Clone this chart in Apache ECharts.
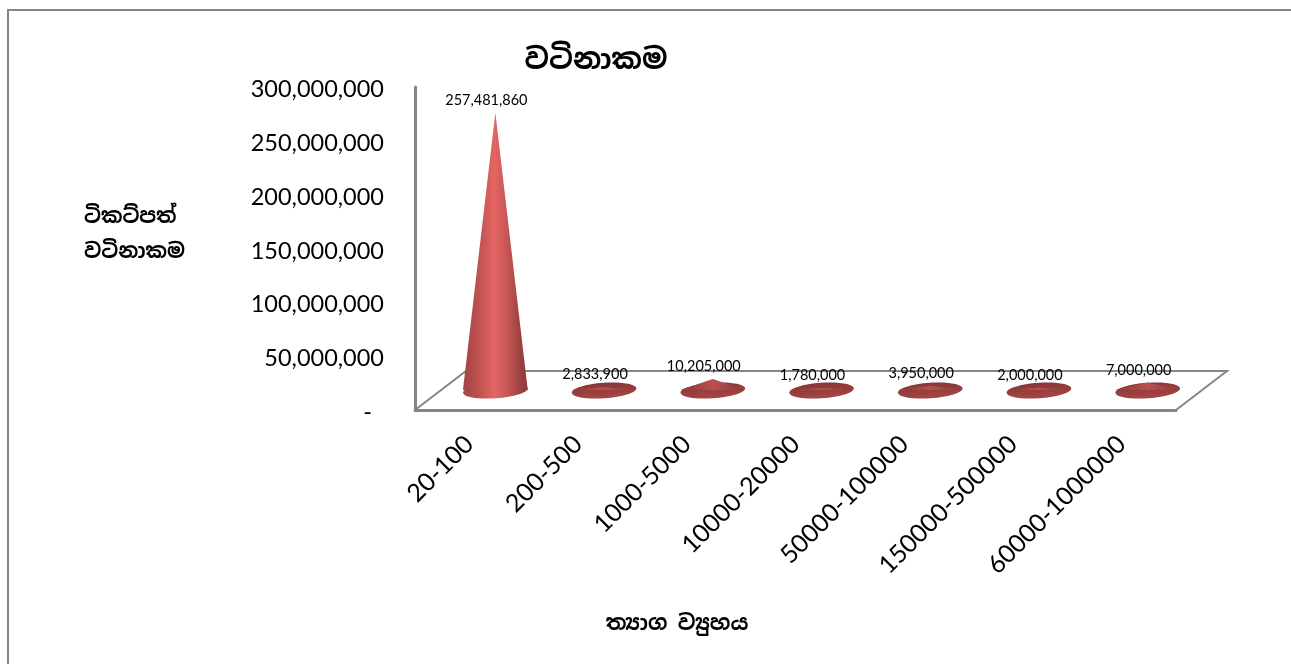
<!DOCTYPE html>
<html><head><meta charset="utf-8">
<style>html,body{margin:0;padding:0;background:#fff}#c{width:1291px;height:664px}</style>
<script src="https://cdn.jsdelivr.net/npm/echarts@6/dist/echarts.min.js"></script>
</head><body><div id="c"></div>
<script>
const categories = ['20-100','200-500','1000-5000','10000-20000','50000-100000','150000-500000','60000-1000000'];
const ticketValue = [257481860,2833900,10205000,1780000,3950000,2000000,7000000];
const titleText = 'වටිනාකම';
const yName = 'ටිකට්පත්\nවටිනාකම';
const xName = 'ත්‍යාග ව්‍යුහය';
const FONT = 'Lato, "Open Sans", sans-serif';
const SIN = '"Noto Sans Sinhala","Noto Serif Sinhala","Iskoola Pota","Noto Sans","DejaVu Sans",sans-serif';
const GREY = '#868686';
const chart = echarts.init(document.getElementById('c'));
const LG = echarts.graphic.LinearGradient;
const DX = 26, DY = -20;

function coneItem(params, api){
  const i = api.value(0), v = api.value(1);
  const apex = api.coord([i, v]), base = api.coord([i, 0]);
  const band = api.size([1, 0])[0];
  const cx = base[0] + DX, cy = base[1] + DY;
  const rx = band * 0.298, ry = 7.8;
  const ax = apex[0] + DX, ay = apex[1] + DY;
  const grad = new LG(0,0,1,0,[
    {offset:0,color:'#a04443'},{offset:.28,color:'#c45452'},{offset:.48,color:'#e46664'},
    {offset:.68,color:'#c85654'},{offset:.88,color:'#9c4240'},{offset:1,color:'#8a3a39'}]);
  const small = (base[1]-apex[1]) < 30;
  const children = [
    {type:'ellipse', shape:{cx:cx,cy:cy+0.5,rx:rx,ry:ry}, rotation:0.07, originX:cx, originY:cy,
     style:{fill: small ? new LG(0,0,0,1,[{offset:0,color:'#863736'},{offset:1,color:'#a84544'}]) : grad}},
    {type:'polygon', shape:{points:[[ax,ay],[cx-rx,cy],[cx+rx,cy]]},
     style:{fill: small ? new LG(0,0,1,0,[{offset:0,color:'#8a3a39'},{offset:.5,color:'#b85050'},{offset:1,color:'#8a3a39'}]) : grad}},
    {type:'text', style:{text: v.toLocaleString('en-US'), x:ax-9, y:ay-12.5, align:'center', verticalAlign:'middle',
      font:'14.5px '+FONT, fill:'#000'}, z2:10}
  ];
  return {type:'group', children:children};
}
function floorItem(params, api){
  const c = params.coordSys;
  const x0=c.x, x1=c.x+c.width, y=c.y+c.height;
  const line = {stroke:GREY, lineWidth:2, fill:null};
  return {type:'group', silent:true, children:[
    {type:'polyline', shape:{points:[[x0,y],[x0+2*DX-1,y+2*DY+1],[x1+2*DX-1,y+2*DY+1],[x1,y]]}, style:line}
  ]};
}
chart.setOption({
  animation:false,
  backgroundColor:'#fff',
  title:[
    {text:titleText,left:591,top:56,textAlign:'center',textVerticalAlign:'middle',textStyle:{fontFamily:SIN,fontSize:29,fontWeight:'bold',color:'#000'}},
    {text:yName,left:79,top:195,textStyle:{fontFamily:SIN,fontSize:20.5,fontWeight:'bold',color:'#000',lineHeight:35}},
    {text:xName,left:672,top:619,textAlign:'center',textVerticalAlign:'middle',textStyle:{fontFamily:SIN,fontSize:21,fontWeight:'bold',color:'#000'}}
  ],
  grid:{left:415,right:115,top:87,bottom:254,containLabel:false},
  xAxis:{type:'category',data:categories,
    axisLine:{show:true,lineStyle:{color:GREY,width:3}},axisTick:{show:false},splitLine:{show:false},
    axisLabel:{rotate:45,interval:0,margin:30,fontFamily:FONT,fontSize:25,color:'#000'}},
  yAxis:{type:'value',min:0,max:300000000,interval:50000000,
    axisLine:{show:true,lineStyle:{color:GREY,width:3}},axisTick:{show:false},splitLine:{show:false},
    axisLabel:{margin:31,color:'#000',
      rich:{t:{fontFamily:FONT,fontSize:23.5,color:'#000',padding:[5,0,0,0]}},
      formatter:v=>'{t|'+(v===0?'-  ':v.toLocaleString('en-US'))+'}'}},
  series:[
    {type:'custom',coordinateSystem:'cartesian2d',renderItem:floorItem,data:[[0,0]],z:1,silent:true,clip:false},
    {type:'custom',coordinateSystem:'cartesian2d',renderItem:coneItem,z:3,clip:false,
      data:ticketValue.map((v,i)=>[i,v]),encode:{x:0,y:1}}
  ],
  graphic:[{type:'polyline',shape:{points:[[8,664],[8,10],[1291,10]]},style:{stroke:GREY,lineWidth:2,fill:null},silent:true}]
});
</script></body></html>
